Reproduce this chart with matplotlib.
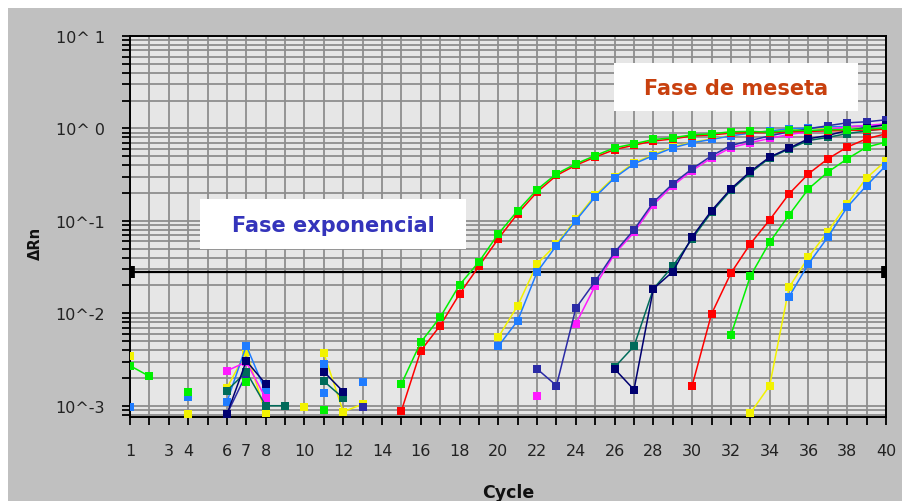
import numpy as np
import matplotlib
matplotlib.use("Agg")
import matplotlib.pyplot as plt
from matplotlib.patches import Rectangle
from matplotlib.ticker import FixedLocator, NullFormatter

# Real-time PCR amplification curves: delta Rn per cycle (log scale)
n_cycles = 40
cycles = np.arange(1, n_cycles + 1)

threshold = 0.028

x_tick_labels = {1: "1", 3: "3", 4: "4", 6: "6", 7: "7", 8: "8", 10: "10",
                 12: "12", 14: "14", 16: "16", 18: "18", 20: "20", 22: "22",
                 24: "24", 26: "26", 28: "28", 30: "30", 32: "32", 34: "34",
                 36: "36", 38: "38", 40: "40"}
y_ticks = [1e-3, 1e-2, 1e-1, 1e0, 1e1]
y_tick_labels = ["10^-3", "10^-2", "10^-1", "10^ 0", "10^ 1"]

# cycle -> delta Rn for each well (missing cycles are not plotted)
yellow_a = {1: 0.00348, 6: 0.00156, 7: 0.00381, 8: 0.00083, 11: 0.00372,
            12: 0.00086, 13: 0.00104,
            20: 0.00551, 21: 0.0121, 22: 0.0342, 23: 0.056, 24: 0.104,
            25: 0.19, 26: 0.30, 27: 0.425, 28: 0.52, 29: 0.63, 30: 0.71,
            31: 0.77, 32: 0.84, 33: 0.90, 34: 0.94, 35: 0.97, 36: 1.0,
            37: 1.02, 38: 1.04, 39: 1.06, 40: 1.08}
blue_a = {1: 0.00096, 4: 0.00123, 6: 0.00110, 7: 0.00447, 8: 0.00141,
          11: 0.00283,
          20: 0.0044, 21: 0.00832, 22: 0.0279, 23: 0.0541, 24: 0.1007,
          25: 0.182, 26: 0.292, 27: 0.414, 28: 0.509, 29: 0.617, 30: 0.70,
          31: 0.759, 32: 0.832, 33: 0.89, 34: 0.94, 35: 0.99, 36: 1.01,
          37: 1.04, 38: 1.05, 39: 1.06, 40: 1.08}
magenta = {6: 0.00239, 7: 0.00297, 8: 0.00121,
           22: 0.00126, 24: 0.00767, 25: 0.0199, 26: 0.044, 27: 0.075,
           28: 0.15, 29: 0.24, 30: 0.35, 31: 0.48, 32: 0.62, 33: 0.70,
           34: 0.78, 35: 0.86, 36: 0.92, 37: 0.98, 38: 1.04, 39: 1.08,
           40: 1.12}
indigo = {6: 0.00081, 7: 0.0022, 13: 0.00096,
          22: 0.0025, 23: 0.00165, 24: 0.01135, 25: 0.0222, 26: 0.0458,
          27: 0.080, 28: 0.159, 29: 0.252, 30: 0.366, 31: 0.506, 32: 0.653,
          33: 0.74, 34: 0.83, 35: 0.92, 36: 0.99, 37: 1.07, 38: 1.15,
          39: 1.18, 40: 1.24}
teal = {6: 0.00146, 7: 0.00232, 8: 0.00100, 9: 0.00100, 11: 0.00184,
        12: 0.00121,
        26: 0.00261, 27: 0.0044, 28: 0.0184, 29: 0.0323, 30: 0.064,
        31: 0.124, 32: 0.215, 33: 0.33, 34: 0.48, 35: 0.60, 36: 0.74,
        37: 0.80, 38: 0.88, 39: 0.94, 40: 1.0}
navy = {6: 0.00081, 7: 0.00305, 8: 0.00172, 11: 0.00233, 12: 0.00142,
        26: 0.0025, 27: 0.00149, 28: 0.0184, 29: 0.0282, 30: 0.0671,
        31: 0.129, 32: 0.222, 33: 0.342, 34: 0.49, 35: 0.612, 36: 0.773,
        37: 0.84, 38: 0.95, 39: 1.02, 40: 1.1}
red_a = {15: 0.00088, 16: 0.00394, 17: 0.00735, 18: 0.0162, 19: 0.0323,
         20: 0.064, 21: 0.12, 22: 0.205, 23: 0.31, 24: 0.40, 25: 0.49,
         26: 0.59, 27: 0.66, 28: 0.73, 29: 0.77, 30: 0.83, 31: 0.85,
         32: 0.89, 33: 0.90, 34: 0.90, 35: 0.92, 36: 0.93, 37: 0.94,
         38: 0.95, 39: 0.96, 40: 0.98}
green_a = {1: 0.00271, 2: 0.00208, 4: 0.00142,
           15: 0.00172, 16: 0.00486, 17: 0.00906, 18: 0.0203, 19: 0.036,
           20: 0.0723, 21: 0.129, 22: 0.218, 23: 0.323, 24: 0.414,
           25: 0.509, 26: 0.617, 27: 0.682, 28: 0.759, 29: 0.792, 30: 0.853,
           31: 0.875, 32: 0.92, 33: 0.93, 34: 0.91, 35: 0.95, 36: 0.95,
           37: 0.97, 38: 0.97, 39: 0.99, 40: 1.01}
red_b = {30: 0.00165, 31: 0.00984, 32: 0.0272, 33: 0.0564, 34: 0.1025,
         35: 0.196, 36: 0.323, 37: 0.469, 38: 0.628, 39: 0.773, 40: 0.875}
green_b = {4: 0.00079, 7: 0.00181, 11: 0.00090,
           32: 0.00583, 33: 0.0252, 34: 0.0588, 35: 0.116, 36: 0.222,
           37: 0.337, 38: 0.469, 39: 0.628, 40: 0.711}
yellow_b = {4: 0.00081, 10: 0.00096,
            33: 0.00083, 34: 0.00165, 35: 0.0191, 36: 0.0405, 37: 0.0766,
            38: 0.153, 39: 0.292, 40: 0.447}
blue_b = {11: 0.00137, 13: 0.00179,
          35: 0.0151, 36: 0.0342, 37: 0.0667, 38: 0.141, 39: 0.241,
          40: 0.397}

wells = [
    (yellow_a, "#f2f200"),
    (blue_a, "#1f7cff"),
    (magenta, "#ff1aff"),
    (indigo, "#2b2ba6"),
    (teal, "#006b5a"),
    (navy, "#000070"),
    (red_a, "#ff0000"),
    (green_a, "#00f000"),
    (red_b, "#ff0000"),
    (green_b, "#00f000"),
    (yellow_b, "#f2f200"),
    (blue_b, "#1f7cff"),
]


def as_array(points):
    arr = np.full(n_cycles, np.nan)
    for c, v in points.items():
        arr[c - 1] = v
    return arr


W, H = 903, 502
fig = plt.figure(figsize=(W / 100, H / 100), dpi=100, facecolor="white")


def fx(px):
    return px / W


def fy(py):
    return 1 - py / H


# grey panel behind the plot
fig.add_artist(Rectangle((fx(8), 0), 1 - fx(8), fy(9), transform=fig.transFigure,
                         facecolor="#c0c0c0", edgecolor="none", zorder=-5))

ax = fig.add_axes([fx(130), fy(418), fx(886) - fx(130), fy(37) - fy(418)])
ax.set_facecolor("#e6e6e6")
ax.set_yscale("log")
ax.set_xlim(1, 40)
ax.set_ylim(7.55e-4, 10)

# grid
ax.xaxis.set_major_locator(FixedLocator(cycles))
ax.set_xticklabels([x_tick_labels.get(c, "") for c in cycles])
ax.yaxis.set_major_locator(FixedLocator(y_ticks))
ax.set_yticklabels(y_tick_labels)
minor = [m * 10.0 ** e for e in range(-4, 1) for m in range(2, 10)]
ax.yaxis.set_minor_locator(FixedLocator(minor))
ax.yaxis.set_minor_formatter(NullFormatter())
ax.grid(True, which="both", axis="y", color="#8e8e8e", linewidth=1.3, zorder=0)
ax.grid(True, which="major", axis="x", color="#8e8e8e", linewidth=1.3, zorder=0)
ax.set_axisbelow(True)

ax.tick_params(axis="both", which="both", direction="out", length=6,
               width=1.3, color="black", labelsize=11.5, labelcolor="#222222")
ax.tick_params(axis="y", which="both", pad=12, right=False)
ax.tick_params(axis="x", which="both", pad=13, top=False)
for s in ax.spines.values():
    s.set_color("black")
    s.set_linewidth(1.4)

# threshold
ax.plot([1, 40], [threshold, threshold], color="black", linewidth=1.6,
        marker="|", markersize=9, markeredgewidth=7, zorder=2)

for pts, col in wells:
    ax.plot(cycles, as_array(pts), color=col, linewidth=1.1, marker="s",
            markersize=6.3, markeredgewidth=0, zorder=3)

# axis titles
fig.text(fx(508), fy(493), "Cycle", ha="center", va="center",
         fontsize=12.5, fontweight="bold", color="#111111")
fig.text(fx(35), fy(243), "\u0394Rn", ha="center", va="center",
         rotation=90, fontsize=10.5, fontweight="bold", color="#111111")

# phase annotations
fig.add_artist(Rectangle((fx(200), fy(250)), fx(466) - fx(200), fy(200) - fy(250),
                         transform=fig.transFigure, facecolor="white",
                         edgecolor="none", zorder=5))
fig.text(fx(333), fy(226), "Fase exponencial", ha="center", va="center",
         fontsize=15, fontweight="bold", color="#3434bb", zorder=6)
fig.add_artist(Rectangle((fx(614), fy(112)), fx(858) - fx(614), fy(64) - fy(112),
                         transform=fig.transFigure, facecolor="white",
                         edgecolor="none", zorder=5))
fig.text(fx(736), fy(89), "Fase de meseta", ha="center", va="center",
         fontsize=15, fontweight="bold", color="#c8400e", zorder=6)

fig.savefig("out.png", dpi=100, facecolor="white")
